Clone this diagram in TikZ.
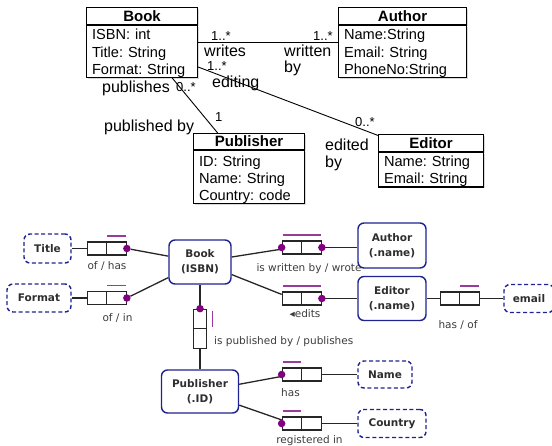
\documentclass[tikz,border=0pt]{standalone}
\usepackage{fontspec}
\setmainfont{Liberation Sans}
\newfontfamily\ormfont{DejaVu Sans}
\usetikzlibrary{calc,shadows}

\definecolor{ormnavy}{HTML}{1F2391}
\definecolor{rolepurple}{HTML}{800080}
\definecolor{barpurple}{HTML}{9A3A9A}
\definecolor{lblgray}{HTML}{3C3C3C}
\definecolor{enttext}{HTML}{2E2E2E}

\begin{document}
\frenchspacing
\begin{tikzpicture}[x=1pt,y=-1pt,
  % UML class diagram
  umlshadow/.style={drop shadow={shadow xshift=1.2pt,shadow yshift=-1.2pt,opacity=0.3}},
  umlhead/.style={draw,line width=1.1pt,fill=white,anchor=north west,inner sep=0pt,
    minimum height=17pt,umlshadow,font=\bfseries\fontsize{15}{17}\selectfont},
  umlbody/.style={draw,line width=1.1pt,fill=white,anchor=north west,inner xsep=5.5pt,
    inner ysep=0pt,align=left,umlshadow,font=\fontsize{14.6}{17.3}\selectfont},
  assoc/.style={line width=0.9pt},
  rolename/.style={font=\fontsize{16}{18}\selectfont,anchor=base west,inner sep=0pt},
  mult/.style={font=\fontsize{13}{15}\selectfont,anchor=base west,inner sep=0pt},
  % ORM diagram
  entity/.style={draw=ormnavy,line width=1.4pt,rounded corners=6pt,fill=white,inner sep=0pt,
    align=center,text=enttext,font=\ormfont\bfseries\fontsize{10.5}{15}\selectfont},
  valuetype/.style={entity,dash pattern=on 4pt off 2.6pt},
  cell/.style={draw=black!85,line width=1.2pt,fill=white,inner sep=0pt,
    minimum width=19.5pt,minimum height=13pt},
  vcell/.style={cell,minimum width=13.5pt,minimum height=19.5pt},
  roledot/.style={circle,fill=rolepurple,inner sep=0pt,minimum size=7.5pt},
  ubar/.style={draw=barpurple,line width=1.3pt},
  link/.style={line width=1.3pt,draw=black!85},
  rlabel/.style={font=\ormfont\fontsize{10.5}{12}\selectfont,text=lblgray,inner sep=0pt,anchor=base},
]
\useasboundingbox (0,0) rectangle (552,445);
\clip (0,0) rectangle (552,445);

% ---------- UML classes ----------
\node[umlhead,minimum width=111pt] (bookh) at (86,7) {Book};
\node[umlbody,text width=100pt] (bookb) at (bookh.south west)
  {\rule{0pt}{14.3pt}ISBN: int\\Title: String\\Format: String};

\node[umlhead,minimum width=128pt] (authh) at (338,7) {Author};
\node[umlbody,text width=117pt] (authb) at (authh.south west)
  {\rule{0pt}{14.3pt}Name:String\\Email: String\\PhoneNo:String};

\node[umlhead,minimum width=111pt,minimum height=16pt] (pubh) at (193,133) {Publisher};
\node[umlbody,text width=100pt] (pubb) at (pubh.south west)
  {\rule{0pt}{15.5pt}ID: String\\Name: String\\Country: code};

\node[umlhead,minimum width=105pt] (edh) at (378,134) {Editor};
\node[umlbody,text width=94pt] (edb) at (edh.south west)
  {\rule{0pt}{14pt}Name: String\\Email: String};

% associations
\draw[assoc] ($(bookb.north east)!0.33!(bookb.south east)$) -- ($(authb.north west)!0.33!(authb.south west)$);
\draw[assoc] ($(bookb.north east)!0.79!(bookb.south east)$) -- ($(edh.north west)!0.08!(edh.south west)$);
\draw[assoc] ($(bookb.south west)!0.77!(bookb.south east)$) -- ($(pubh.north west)!0.22!(pubh.north east)$);

% role names and multiplicities
\node[mult] (mwa) at (211,40) {1..*};
\node[rolename] (rwrites) at (204,56) {writes};
\node[mult] (mwb) at (313,40) {1..*};
\node[rolename] (rwritten) at (284,56) {written};
\node[rolename] (rwby) at (284,72) {by};
\node[mult] (mea) at (207,70) {1..*};
\node[rolename] (rediting) at (212,87) {editing};
\node[mult] (meb) at (355,126) {0..*};
\node[rolename] (redited) at (325,150) {edited};
\node[rolename] (reby) at (325,167) {by};
\node[rolename] (rpublishes) at (102,92) {publishes};
\node[mult] (mpa) at (176,91) {0..*};
\node[rolename] (rpubby) at (104,131) {published by};
\node[mult] (mpb) at (215,121) {1};

% ---------- ORM schema ----------
% object types
\node[valuetype,minimum width=47pt,minimum height=29pt] (title) at (47.5,248.5) {Title};
\node[valuetype,minimum width=64pt,minimum height=28pt] (format) at (39,298) {Format};
\node[entity,minimum width=62pt,minimum height=44pt] (book) at (200,262) {Book\\(ISBN)};
\node[entity,minimum width=68pt,minimum height=45pt] (author) at (392,245.5) {Author\\(.name)};
\node[entity,minimum width=68pt,minimum height=44pt] (editor) at (392,298.5) {Editor\\(.name)};
\node[valuetype,minimum width=50pt,minimum height=28pt] (email) at (529,298.5) {email};
\node[entity,minimum width=77pt,minimum height=43pt] (publisher) at (200,391.5) {Publisher\\(.ID)};
\node[valuetype,minimum width=54pt,minimum height=27pt] (name) at (385,374.5) {Name};
\node[valuetype,minimum width=68pt,minimum height=28pt] (country) at (392,423.5) {Country};

% fact type role boxes
\node[cell] (ti1) at (97,248.5) {};    \node[cell] (ti2) at (116.5,248.5) {};
\node[cell] (fo1) at (97,298) {};      \node[cell] (fo2) at (116.5,298) {};
\node[cell] (au1) at (292,247.5) {};   \node[cell] (au2) at (311.5,247.5) {};
\node[cell] (ed1) at (292,298.5) {};   \node[cell] (ed2) at (311.5,298.5) {};
\node[cell] (em1) at (450,298.5) {};   \node[cell] (em2) at (469.5,298.5) {};
\node[vcell] (pb1) at (200,319) {};    \node[vcell] (pb2) at (200,338.5) {};
\node[cell] (nm1) at (292,374.5) {};   \node[cell] (nm2) at (311.5,374.5) {};
\node[cell] (co1) at (292,423.5) {};   \node[cell] (co2) at (311.5,423.5) {};

% role connectors
\draw[link] (title) -- (ti1);
\draw[link] (format) -- (fo1);
\draw[link] (book) -- (au1);
\draw[link] (au2) -- (au2 -| author.west);
\draw[link] (book) -- (ed1);
\draw[link] (ed2) -- (editor);
\draw[link] (editor) -- (em1);
\draw[link] (em2) -- (email);
\draw[link] (book) -- (pb1);
\draw[link] (pb2) -- (publisher);
\draw[link] (publisher) -- (nm1);
\draw[link] (nm2) -- (name);
\draw[link] (publisher) -- (co1);
\draw[link] (co2) -- (country);

% mandatory role dots
\node[roledot] (tidot) at (ti2.east) {};
\node[roledot] (fodot) at (fo2.east) {};
\node[roledot] (audota) at (au1.west) {};
\node[roledot] (audotb) at (au2.east) {};
\node[roledot] (eddot) at (ed2.east) {};
\node[roledot] (pbdot) at (pb1.north) {};
\node[roledot] (nmdot) at (nm1.west) {};
\node[roledot] (codot) at (co1.west) {};
\draw[link] (tidot) -- (book);
\draw[link] (fodot) -- (book);

% uniqueness bars
\draw[ubar] ([xshift=1pt,yshift=5.5pt]ti2.north west) -- ([xshift=-1pt,yshift=5.5pt]ti2.north east);
\draw[ubar] ([xshift=1pt,yshift=5.5pt]fo2.north west) -- ([xshift=-1pt,yshift=5.5pt]fo2.north east);
\draw[ubar] ([xshift=1pt,yshift=5.5pt]au1.north west) -- ([xshift=-1pt,yshift=5.5pt]au2.north east);
\draw[ubar] ([xshift=1pt,yshift=5.5pt]ed1.north west) -- ([xshift=-1pt,yshift=5.5pt]ed2.north east);
\draw[ubar] ([xshift=1pt,yshift=5.5pt]em2.north west) -- ([xshift=-1pt,yshift=5.5pt]em2.north east);
\draw[ubar] ([xshift=5pt,yshift=-2pt]pb1.north east) -- ([xshift=5pt,yshift=2pt]pb1.south east);
\draw[ubar] ([xshift=1pt,yshift=5.5pt]nm1.north west) -- ([xshift=-1pt,yshift=5.5pt]nm1.north east);
\draw[ubar] ([xshift=1pt,yshift=5.5pt]co1.north west) -- ([xshift=-1pt,yshift=5.5pt]co1.north east);

% fact type readings
\node[rlabel] (lhas) at (107,269) {of / has};
\node[rlabel] (lin) at (117.5,321) {of / in};
\node[rlabel] (lwrote) at (309,271) {is written by / wrote};
\node[rlabel] (ledits) at (305,317.5) {◂edits};
\node[rlabel] (lemail) at (458,328) {has / of};
\node[rlabel,anchor=base west] (lpub) at (214,344) {is published by / publishes};
\node[rlabel] (lname) at (290.5,396.5) {has};
\node[rlabel] (lcountry) at (309.5,443) {registered in};
\end{tikzpicture}
\end{document}
